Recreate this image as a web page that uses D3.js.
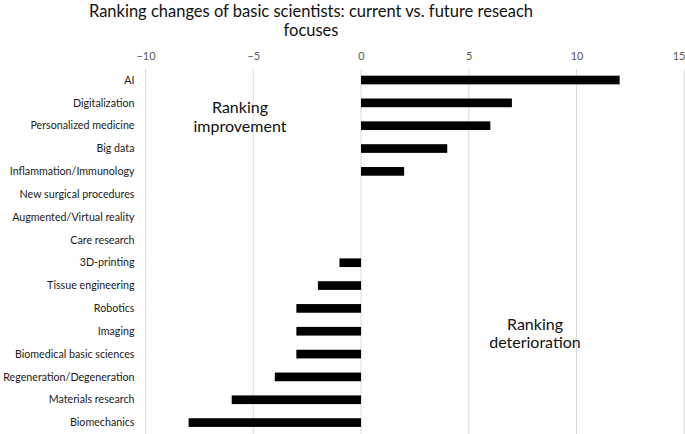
<!DOCTYPE html>
<html>
<head>
<meta charset="utf-8">
<script src="https://cdn.jsdelivr.net/npm/d3@7"></script>
<style>
  html, body { margin: 0; padding: 0; background: #fff; }
  svg { display: block; font-family: Lato, "Open Sans", sans-serif; }
</style>
</head>
<body>
<svg id="chart" width="685" height="434"></svg>
<script>
// Data
const categories = [
    'AI', 'Digitalization', 'Personalized medicine', 'Big data', 'Inflammation/Immunology',
    'New surgical procedures', 'Augmented/Virtual reality', 'Care research', '3D-printing',
    'Tissue engineering', 'Robotics', 'Imaging', 'Biomedical basic sciences',
    'Regeneration/Degeneration', 'Materials research', 'Biomechanics'
];
const rankChange = [12, 7, 6, 4, 2, 0, 0, 0, -1, -2, -3, -3, -3, -4, -6, -8];
const tickValues = [-10, -5, 0, 5, 10, 15];
const titleLines = ['Ranking changes of basic scientists: current vs. future reseach', 'focuses'];

const svg = d3.select('#chart');

// Scales
const x = d3.scaleLinear().domain([-10, 15]).range([145.5, 684.3]);
const y = d3.scaleBand()
    .domain(categories)
    .range([68.6, 434])
    .paddingInner(0.62)
    .paddingOuter(0.31);

// Title (one text per line)
svg.append('g')
    .selectAll('text')
    .data(titleLines)
    .enter().append('text')
    .attr('x', 311)
    .attr('y', (d, i) => 17 + i * 18.5)
    .attr('text-anchor', 'middle')
    .attr('font-size', 16.5)
    .attr('fill', '#111')
    .text(d => d);

// Grid lines
svg.append('g')
    .selectAll('line')
    .data(tickValues)
    .enter().append('line')
    .attr('x1', d => x(d))
    .attr('x2', d => x(d))
    .attr('y1', 69)
    .attr('y2', 434)
    .attr('stroke', '#d9d9d9')
    .attr('stroke-width', 1);

// Top axis labels
const axis = svg.append('g')
    .attr('transform', 'translate(0,60)')
    .call(d3.axisTop(x).tickValues(tickValues).tickSize(0).tickPadding(0));
axis.select('.domain').remove();
axis.selectAll('text')
    .attr('font-family', 'Lato, "Open Sans", sans-serif')
    .attr('font-size', 11)
    .attr('fill', '#595959');
// last label sits on the right edge
axis.selectAll('.tick')
    .filter(d => d === tickValues[tickValues.length - 1])
    .select('text')
    .attr('text-anchor', 'end')
    .attr('dx', 0.7);

// Bars
svg.append('g')
    .selectAll('rect')
    .data(categories)
    .enter().append('rect')
    .attr('x', (d, i) => x(Math.min(0, rankChange[i])))
    .attr('y', d => y(d))
    .attr('width', (d, i) => Math.abs(x(rankChange[i]) - x(0)))
    .attr('height', y.bandwidth())
    .attr('fill', '#000');

// Category labels
svg.append('g')
    .selectAll('text')
    .data(categories)
    .enter().append('text')
    .attr('x', 134.5)
    .attr('y', d => y(d) + y.bandwidth() / 2)
    .attr('dy', '0.35em')
    .attr('text-anchor', 'end')
    .attr('font-size', 10.7)
    .attr('fill', '#1a1a1a')
    .text(d => d);

// Annotations
function note(lines, cx, cy) {
    svg.append('text')
        .attr('text-anchor', 'middle')
        .attr('font-size', 16)
        .attr('fill', '#111')
        .selectAll('tspan')
        .data(lines)
        .enter().append('tspan')
        .attr('x', cx)
        .attr('y', (d, i) => cy + i * 18.5)
        .attr('dy', '0.35em')
        .text(d => d);
}
note(['Ranking', 'improvement'], 240, 107.7);
note(['Ranking', 'deterioration'], 535, 324);
</script>
</body>
</html>
